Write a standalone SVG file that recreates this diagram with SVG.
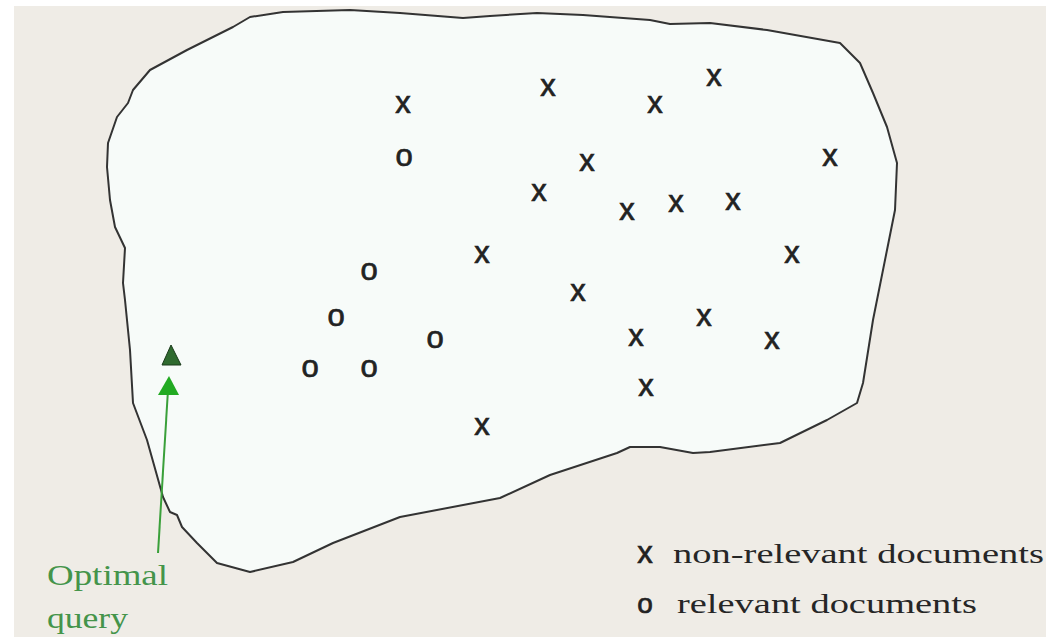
<svg xmlns="http://www.w3.org/2000/svg" width="1046" height="637" viewBox="0 0 1046 637">
<style>
.m{font-family:"Liberation Sans",Arial,sans-serif;font-size:31px;fill:#222;stroke:#222;stroke-width:0.7;text-anchor:middle}
.lg{font-family:"Liberation Serif","Times New Roman",serif;font-size:28px;fill:#262626}
.gr{font-family:"Liberation Serif","Times New Roman",serif;font-size:29px;fill:#44944a}
</style>
<rect x="0" y="0" width="1046" height="637" fill="#ffffff"/>
<rect x="14" y="6" width="1032" height="631" fill="#efece6"/>
<g id="region">
<path d="M250,17 L283,12 L350,10 L400,13 L463,18 L490,16 L537,13 L583,15 L650,20 L670,24 L710,23 L767,30 L840,43 L860,63 L873,93 L887,127 L897,163 L895,210 L887,250 L873,320 L863,383 L857,403 L827,420 L780,443 L710,452 L693,453 L660,447 L630,447 L617,453 L550,475 L500,498 L400,517 L333,543 L293,562 L250,572 L217,563 L197,543 L182,527 L177,515 L170,512 L163,497 L147,440 L133,403 L130,350 L125,300 L123,283 L125,248 L115,227 L110,200 L107,167 L108,143 L117,117 L128,103 L133,90 L150,70 L187,50 L233,27 Z" fill="#f7fbf9" stroke="#333" stroke-width="2" stroke-linejoin="round"/>
</g>
<g id="nonrelevant">
<text class="m" x="403" y="113">x</text>
<text class="m" x="548" y="96">x</text>
<text class="m" x="655" y="113">x</text>
<text class="m" x="714" y="86">x</text>
<text class="m" x="830" y="166">x</text>
<text class="m" x="587" y="171">x</text>
<text class="m" x="539" y="201">x</text>
<text class="m" x="627" y="220">x</text>
<text class="m" x="676" y="212">x</text>
<text class="m" x="733" y="210">x</text>
<text class="m" x="482" y="263">x</text>
<text class="m" x="792" y="263">x</text>
<text class="m" x="578" y="301">x</text>
<text class="m" x="704" y="326">x</text>
<text class="m" x="636" y="346">x</text>
<text class="m" x="772" y="349">x</text>
<text class="m" x="646" y="396">x</text>
<text class="m" x="482" y="435">x</text>
</g>
<g id="relevant">
<text class="m" x="404" y="166">o</text>
<text class="m" x="369" y="280">o</text>
<text class="m" x="336" y="326">o</text>
<text class="m" x="435" y="348">o</text>
<text class="m" x="310" y="377">o</text>
<text class="m" x="369" y="377">o</text>
</g>
<g id="query">
<path d="M171,345 L181,365 L162,365 Z" fill="#2f6a2f" stroke="#1a3a1a" stroke-width="1"/>
</g>
<g id="connectors">
<line x1="158" y1="553" x2="168" y2="390" stroke="#3aa03a" stroke-width="2"/>
<path d="M169,376 L179,395 L158,395 Z" fill="#22aa22"/>
</g>
<g id="label">
<text class="gr" x="47" y="585" textLength="121" lengthAdjust="spacingAndGlyphs">Optimal</text>
<text class="gr" x="47" y="628" textLength="81" lengthAdjust="spacingAndGlyphs">query</text>
</g>
<g id="legend">
<text class="m" x="645" y="563" style="font-size:31px">x</text>
<text class="lg" x="673" y="563" textLength="371" lengthAdjust="spacingAndGlyphs">non-relevant documents</text>
<text class="m" x="645" y="613" style="font-size:28px">o</text>
<text class="lg" x="677" y="613" textLength="300" lengthAdjust="spacingAndGlyphs">relevant documents</text>
</g>
</svg>
